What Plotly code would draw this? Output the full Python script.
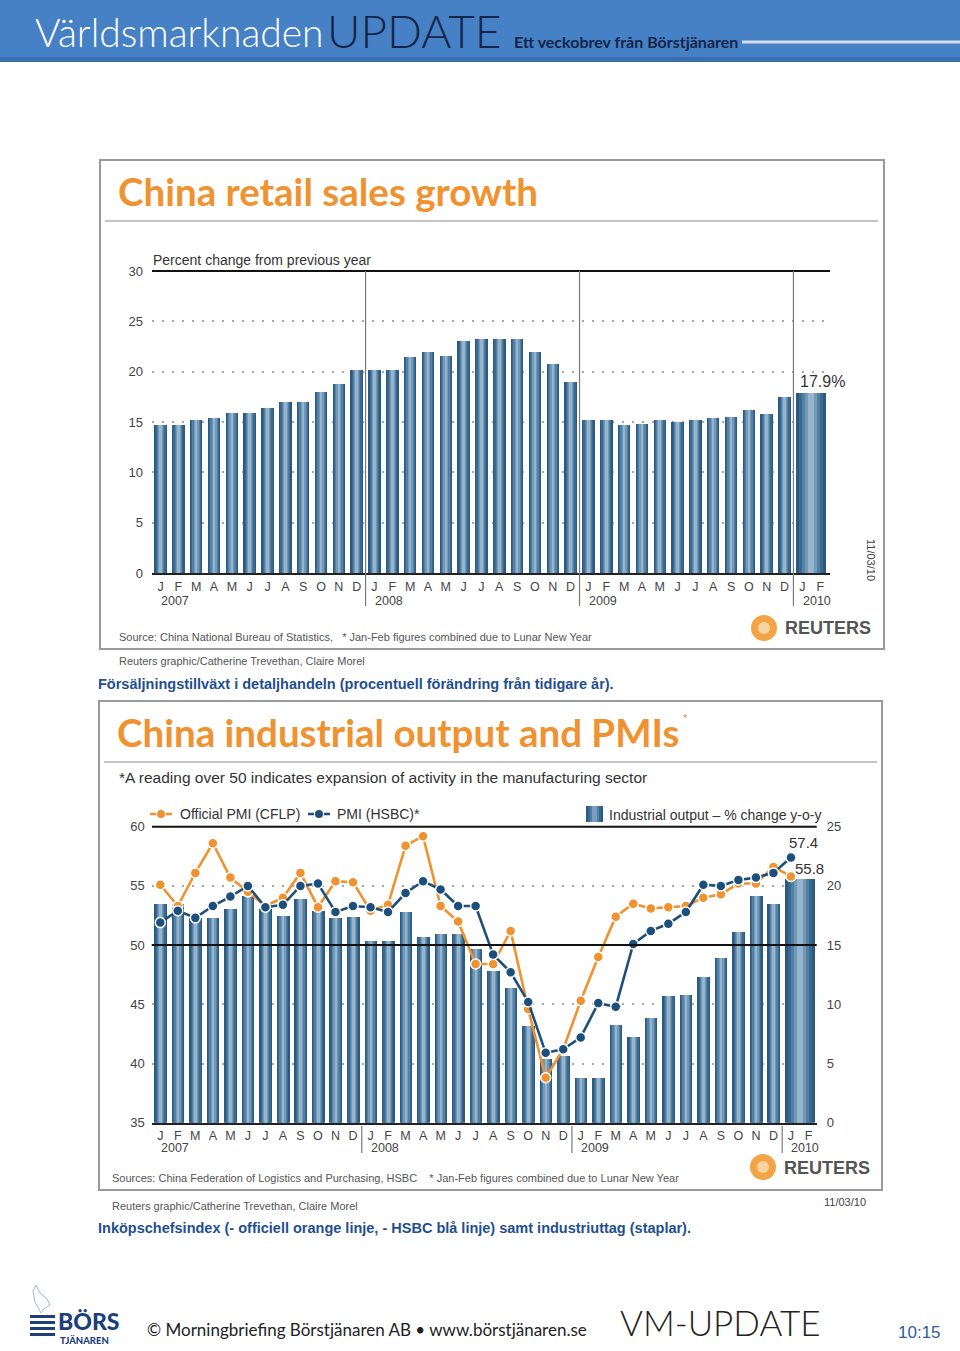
import plotly.graph_objects as go

W, H = 960, 1351


def PX(x):
    return x / W


def PY(y):
    return 1 - y / H


# ---------------- data ----------------
month_letters = ["J", "F", "M", "A", "M", "J", "J", "A", "S", "O", "N", "D"]
tick_letters = month_letters * 3 + ["J", "F"]
years = ["2007", "2008", "2009", "2010"]

# China retail sales growth, % y/y (Jan 2007 .. Dec 2009, then Jan-Feb 2010 combined)
retail_sales = [14.7, 14.7, 15.2, 15.4, 15.9, 15.9, 16.4, 17.0, 17.0, 18.0, 18.8, 20.2,
                20.2, 20.2, 21.5, 22.0, 21.6, 23.0, 23.2, 23.2, 23.2, 22.0, 20.8, 19.0,
                15.2, 15.2, 14.7, 14.8, 15.2, 15.0, 15.2, 15.4, 15.5, 16.2, 15.8, 17.5,
                17.9]

# Industrial output, % change y-o-y
industrial_output = [18.5, 18.5, 17.3, 17.3, 18.1, 19.2, 18.1, 17.5, 18.9, 17.9, 17.3, 17.4,
                     15.4, 15.4, 17.8, 15.7, 16.0, 16.0, 14.7, 12.8, 11.4, 8.2, 5.4, 5.7,
                     3.8, 3.8, 8.3, 7.3, 8.9, 10.7, 10.8, 12.3, 13.9, 16.1, 19.2, 18.5,
                     20.6]

# Official PMI (CFLP), Jan 2007 .. Jan 2010
pmi_cflp = [55.1, 53.3, 56.1, 58.6, 55.7, 54.5, 53.3, 54.0, 56.1, 53.2, 55.4, 55.3,
            52.9, 53.4, 58.4, 59.2, 53.3, 52.0, 48.4, 48.4, 51.2, 44.6, 38.8, 41.2,
            45.3, 49.0, 52.4, 53.5, 53.1, 53.2, 53.3, 54.0, 54.3, 55.2, 55.2, 56.6,
            55.8]

# PMI (HSBC), Jan 2007 .. Jan 2010
pmi_hsbc = [51.9, 52.9, 52.3, 53.3, 54.1, 55.0, 53.2, 53.4, 55.0, 55.2, 52.8, 53.3,
            53.2, 52.8, 54.4, 55.4, 54.7, 53.3, 53.3, 49.2, 47.7, 45.2, 40.9, 41.2,
            42.2, 45.1, 44.8, 50.1, 51.2, 51.8, 52.8, 55.1, 55.0, 55.5, 55.7, 56.1,
            57.4]

# month slots: 36 single months, then the combined Jan-Feb 2010 bar spanning two slots
n_single = 36
bar_x = list(range(n_single)) + [n_single + 0.5]
pmi_x = list(range(len(pmi_cflp)))

# ---------------- styles ----------------
ORANGE = "#f0922f"
BLUE_LINE = "#1c4f7c"
TXT = "#444444"
FONT = "Liberation Sans"
CAPTION = "#1f4f8f"

fig = go.Figure()

grad = [(1.0, "#2b5a80"), (0.8, "#3b6a90"), (0.6, "#5381a6"), (0.4, "#7199b9"), (0.2, "#98b4cb")]


def add_bars(xs, ys, base_w, wide_w, xa, ya):
    widths = [base_w] * (len(xs) - 1) + [wide_w]
    for frac, col in grad:
        fig.add_trace(go.Bar(
            x=xs, y=ys, width=[w * frac for w in widths],
            marker=dict(color=col, line=dict(width=0)),
            xaxis=xa, yaxis=ya, showlegend=False, hoverinfo="skip"))


add_bars(bar_x, retail_sales, 0.70, 1.68, "x", "y")
add_bars(bar_x, industrial_output, 0.72, 1.71, "x2", "y2")

for vals, col in [(pmi_cflp, ORANGE), (pmi_hsbc, BLUE_LINE)]:
    fig.add_trace(go.Scatter(
        x=pmi_x, y=vals, mode="lines+markers", xaxis="x2", yaxis="y3",
        line=dict(color=col, width=2.6),
        marker=dict(color=col, size=10, line=dict(color="white", width=1.5)),
        showlegend=False, hoverinfo="skip"))

tickvals = list(range(len(tick_letters)))

axis_font = dict(family=FONT, size=13, color=TXT)
month_font = dict(family=FONT, size=12.5, color=TXT)

layout = dict(
    width=W, height=H,
    margin=dict(l=0, r=0, t=0, b=0, autoexpand=False),
    paper_bgcolor="white", plot_bgcolor="rgba(0,0,0,0)",
    barmode="overlay", bargap=0,
    xaxis=dict(domain=[PX(152), PX(830)], range=[-0.48, 37.55], anchor="y",
               tickvals=tickvals, ticktext=tick_letters, tickfont=month_font,
               ticks="", ticklabelstandoff=1,
               showgrid=False, zeroline=False, showline=True, linecolor="#222", linewidth=2),
    yaxis=dict(domain=[PY(573), PY(271)], range=[0, 30], anchor="x",
               tickvals=[0, 5, 10, 15, 20, 25, 30], tickfont=axis_font,
               ticks="", ticklabelstandoff=8,
               showgrid=True, gridcolor="#a8a8a8", gridwidth=1.5, griddash="2px,8px",
               zeroline=False, showline=False),
    xaxis2=dict(domain=[PX(151.7), PX(816.7)], range=[-0.49, 37.47], anchor="y2",
                tickvals=tickvals, ticktext=tick_letters, tickfont=month_font,
                ticks="", ticklabelstandoff=0,
                showgrid=False, zeroline=False, showline=True, linecolor="#222", linewidth=2),
    yaxis2=dict(domain=[PY(1122.7), PY(826.7)], range=[0, 25], anchor="x2", side="right",
                tickvals=[0, 5, 10, 15, 20, 25], tickfont=axis_font,
                ticks="", ticklabelstandoff=9,
                showgrid=True, gridcolor="#a8a8a8", gridwidth=1.5, griddash="2px,8px",
                zeroline=False, showline=False),
    yaxis3=dict(range=[35, 60], overlaying="y2", anchor="x2", side="left",
                tickvals=[35, 40, 45, 50, 55, 60], tickfont=axis_font,
                ticks="", ticklabelstandoff=6, showgrid=False, zeroline=False, showline=False),
)
fig.update_layout(**layout)

shapes = []
ann = []


def pline(x0, y0, x1, y1, color, width, dash="solid"):
    shapes.append(dict(type="line", xref="paper", yref="paper",
                       x0=PX(x0), x1=PX(x1), y0=PY(y0), y1=PY(y1),
                       line=dict(color=color, width=width, dash=dash)))


def prect(x0, y0, x1, y1, fill, line_color=None, lw=0):
    shapes.append(dict(type="rect", xref="paper", yref="paper",
                       x0=PX(x0), x1=PX(x1), y0=PY(y1), y1=PY(y0),
                       fillcolor=fill, line=dict(color=line_color or fill, width=lw)))


def pcircle(cx, cy, r, fill, line_color=None, lw=0):
    shapes.append(dict(type="circle", xref="paper", yref="paper",
                       x0=PX(cx - r), x1=PX(cx + r), y0=PY(cy + r), y1=PY(cy - r),
                       fillcolor=fill, line=dict(color=line_color or fill, width=lw)))


def ppath(points, color, width):
    d = "M " + " L ".join(f"{PX(x):.5f},{PY(y):.5f}" for x, y in points)
    shapes.append(dict(type="path", xref="paper", yref="paper", path=d,
                       line=dict(color=color, width=width)))


def text(x, y, s, size=13, color=TXT, family=FONT, xanchor="left", yanchor="middle",
         weight=None, angle=0):
    f = dict(family=family, size=size, color=color)
    if weight:
        f["weight"] = weight
    ann.append(dict(x=PX(x), y=PY(y), xref="paper", yref="paper", text=s, showarrow=False,
                    xanchor=xanchor, yanchor=yanchor, font=f, textangle=angle))


# ---------------- header banner ----------------
prect(0, 0, 960, 62, "#4681c5")
prect(0, 57, 960, 62, "#3a6fae")
pline(742, 42, 960, 42, "#d4deec", 3)
text(33, 32, "Världsmarknaden", size=39, color="white", family="Lato", weight=300)
text(325, 30, "UPDATE", size=46, color="#14254a", family="Lato", weight=300)
text(512, 41, "Ett veckobrev från Börstjänaren", size=16, color="#14254a", family="Lato", weight=700)

# ---------------- chart 1 frame & texts ----------------
prect(100, 160, 884, 649, "rgba(0,0,0,0)", "#9a9a9a", 2)
pline(105, 221, 878, 221, "#8a8a8a", 1.2)
text(116, 191, "China retail sales growth", size=38.5, color=ORANGE, family="Lato", weight=700)
text(151, 260, "Percent change from previous year", size=14, color="#333")
pline(152, 271, 830, 271, "#111", 2)
for k in range(1, 4):
    shapes.append(dict(type="line", xref="x", yref="paper", x0=12 * k - 0.5, x1=12 * k - 0.5,
                       y0=PY(606), y1=PY(271), line=dict(color="#7a7a7a", width=1.2)))
for k, yr in enumerate(years):
    ann.append(dict(x=12 * k - 0.1, y=PY(601), xref="x", yref="paper", text=yr, showarrow=False,
                    xanchor="left", yanchor="middle", font=dict(family=FONT, size=12.5, color=TXT)))
ann.append(dict(x=bar_x[-1], y=retail_sales[-1], xref="x", yref="y", text="17.9%",
                showarrow=False, xanchor="center", yanchor="bottom", xshift=11, yshift=1,
                font=dict(family=FONT, size=16, color="#333")))
text(117, 637, "Source: China National Bureau of Statistics,   * Jan-Feb figures combined due to Lunar New Year",
     size=11, color="#555")
pcircle(764, 628, 13, "#f3a447")
pcircle(764, 628, 6, "#f9d3a0")
text(783, 628, "REUTERS", size=18, color="#555", weight=700)
text(871, 560, "11/03/10", size=11, color="#444", xanchor="center", angle=90)
text(117, 661, "Reuters graphic/Catherine Trevethan, Claire Morel", size=11, color="#555")
text(96, 684, "Försäljningstillväxt i detaljhandeln (procentuell förändring från tidigare år).",
     size=14.5, color=CAPTION, weight=700)

# ---------------- chart 2 frame & texts ----------------
prect(99, 701, 882, 1190, "rgba(0,0,0,0)", "#9a9a9a", 2)
pline(104, 762, 877, 762, "#8a8a8a", 1.2)
text(115, 732, "China industrial output and PMIs", size=38.5, color=ORANGE, family="Lato", weight=700)
text(681, 718, "*", size=11, color=ORANGE)
text(117, 777, "*A reading over 50 indicates expansion of activity in the manufacturing sector",
     size=15.5, color="#333")
pline(152, 826.7, 816.7, 826.7, "#111", 2)
shapes.append(dict(type="line", xref="x2 domain", yref="y3", x0=0, x1=1, y0=50, y1=50,
                   line=dict(color="#111", width=2), layer="above"))
for k in range(1, 4):
    shapes.append(dict(type="line", xref="x2", yref="paper", x0=12 * k - 0.5, x1=12 * k - 0.5,
                       y0=PY(1153), y1=PY(1126), line=dict(color="#7a7a7a", width=1.2)))
for k, yr in enumerate(years):
    ann.append(dict(x=12 * k - 0.1, y=PY(1148), xref="x2", yref="paper", text=yr, showarrow=False,
                    xanchor="left", yanchor="middle", font=dict(family=FONT, size=12.5, color=TXT)))
ann.append(dict(x=pmi_x[-1], y=pmi_hsbc[-1], xref="x2", yref="y3", text="57.4",
                showarrow=False, xanchor="center", yanchor="middle", xshift=13, yshift=15,
                font=dict(family=FONT, size=15, color="#333")))
ann.append(dict(x=pmi_x[-1], y=pmi_cflp[-1], xref="x2", yref="y3", text="55.8",
                showarrow=False, xanchor="center", yanchor="middle", xshift=19, yshift=8,
                font=dict(family=FONT, size=15, color="#333")))

# legend
for x0, col, label, tx in [(150, ORANGE, "Official PMI (CFLP)", 178), (308, BLUE_LINE, "PMI (HSBC)*", 335)]:
    pline(x0, 814, x0 + 6, 814, col, 2.5)
    pline(x0 + 16, 814, x0 + 22, 814, col, 2.5)
    pcircle(x0 + 11, 814, 4, col)
    text(tx, 814, label, size=14, color="#333")
sw = [(586, 603, "#2b5a80"), (588, 601, "#3b6a90"), (590, 599, "#5381a6"), (592, 597, "#7d9fbd")]
for a, b, c in sw:
    prect(a, 806, b, 822, c)
text(607, 815, "Industrial output – % change y-o-y", size=14, color="#333")

text(110, 1178, "Sources: China Federation of Logistics and Purchasing, HSBC    * Jan-Feb figures combined due to Lunar New Year",
     size=11, color="#555")
pcircle(763, 1167, 13, "#f3a447")
pcircle(763, 1167, 6, "#f9d3a0")
text(782, 1168, "REUTERS", size=18, color="#555", weight=700)
text(110, 1206, "Reuters graphic/Catherine Trevethan, Claire Morel", size=11, color="#555")
text(868, 1202, "11/03/10", size=11, color="#444", xanchor="right")
text(96, 1228, "Inköpschefsindex (- officiell orange linje, - HSBC blå linje) samt industriuttag (staplar).",
     size=14.5, color=CAPTION, weight=700)

# ---------------- footer ----------------
ppath([(41, 1313), (35, 1302), (33, 1291), (36, 1285), (40, 1293), (47, 1299), (50, 1305), (44, 1309), (41, 1313)],
      "#9db8d8", 1)
for yy in [1315, 1321, 1327, 1333]:
    prect(30, yy, 55, yy + 3, "#1d3f7a")
text(56, 1321, "BÖRS", size=23, color="#1d3f7a", family="Lato", weight=900)
text(58, 1340, "TJÄNAREN", size=9.5, color="#1d3f7a", family="Lato", weight=900)
text(145, 1329, "© Morningbriefing Börstjänaren AB • www.börstjänaren.se", size=17, color="#222", family="Lato")
text(618, 1322, "VM-UPDATE", size=35, color="#222", family="Lato", weight=300)
text(943, 1332, "10:15", size=17, color="#2f5d9a", xanchor="right")

fig.update_layout(shapes=shapes, annotations=ann)
fig.write_html(
    "out.html",
    config={"displayModeBar": False},
    post_script=(
        "document.documentElement.style.margin='0';"
        "document.body.style.margin='0';"
        "document.body.style.overflow='hidden';"
        "var gd=document.getElementById('{plot_id}');"
        "gd.style.position='absolute';gd.style.left='0px';gd.style.top='0px';"
    ),
)
